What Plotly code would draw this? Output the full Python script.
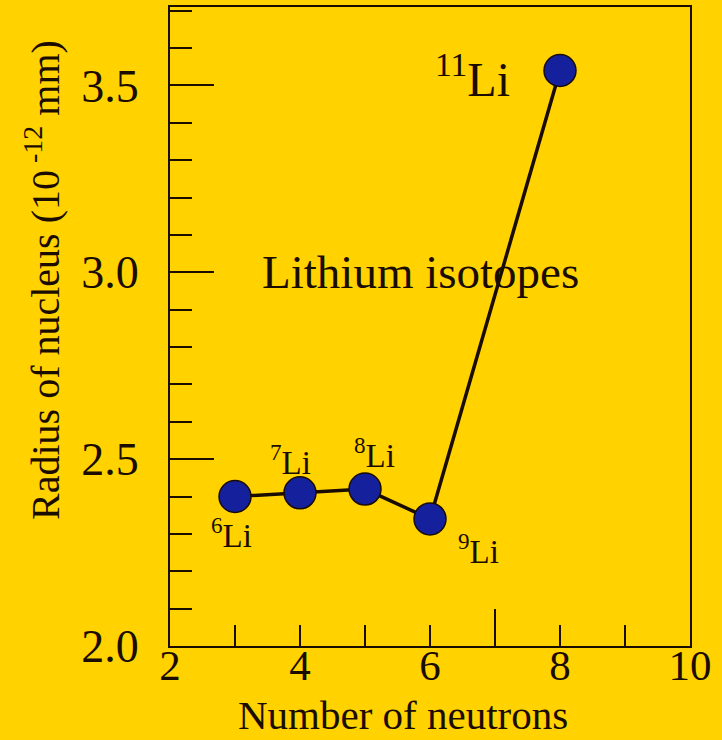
import plotly.graph_objects as go

# Lithium isotopes: neutron number vs nuclear radius
isotopes = ["6", "7", "8", "9", "11"]
neutrons = [3, 4, 5, 6, 8]
radius = [2.40, 2.41, 2.42, 2.34, 3.54]

# label offsets in pixels (x, y) relative to each point, and font sizes
label_shift = [(-4, -36), (-10, 33), (9, 36), (48, -30), (-88, -5)]
label_size = [33, 33, 33, 33, 48]

x_ticks = [2, 4, 6, 8, 10]
y_ticks = [2.0, 2.5, 3.0, 3.5]

BG = "#FFD200"
INK = "#1a0d00"
FONT = "Liberation Serif"

fig = go.Figure()

fig.add_trace(go.Scatter(
    x=neutrons,
    y=radius,
    mode="lines+markers",
    line=dict(color=INK, width=3.5),
    marker=dict(size=32, color="#14209C", line=dict(color=INK, width=1.5)),
    showlegend=False,
    hoverinfo="skip",
))

# invisible trace to carry the odd long tick at 7 on a twin axis
fig.add_trace(go.Scatter(x=[7], y=[2.0], xaxis="x2", mode="markers",
                         marker=dict(opacity=0), showlegend=False, hoverinfo="skip"))

for iso, n, r, (dx, dy), fs in zip(isotopes, neutrons, radius, label_shift, label_size):
    fig.add_annotation(
        x=n, y=r, xref="x", yref="y",
        text=f"<sup>{iso}</sup>Li",
        showarrow=False, xshift=dx, yshift=dy,
        font=dict(family=FONT, size=fs, color=INK),
    )

fig.add_annotation(
    x=5.86, y=3.0, xref="x", yref="y",
    text="Lithium isotopes", showarrow=False,
    font=dict(family=FONT, size=47, color=INK),
)

# axis titles as annotations (the originals sit off-centre)
fig.add_annotation(
    x=0.448, y=-0.146, xref="paper", yref="paper",
    text="Number of neutrons", showarrow=False,
    xanchor="center", yanchor="bottom", borderpad=0,
    font=dict(family=FONT, size=41, color=INK),
)
fig.add_annotation(
    x=-0.244, y=0.573, xref="paper", yref="paper",
    text="Radius of nucleus (10<sup> -12</sup> mm)", showarrow=False,
    textangle=-90, xanchor="center", yanchor="middle",
    font=dict(family=FONT, size=40, color=INK),
)

fig.update_layout(
    width=722, height=740,
    paper_bgcolor=BG, plot_bgcolor=BG,
    margin=dict(l=170, r=32, t=7, b=94),
    font=dict(family=FONT, color=INK),
    xaxis=dict(
        range=[2, 10], tickvals=x_ticks, ticktext=[str(v) for v in x_ticks],
        ticks="inside", ticklen=21, tickwidth=1.5, tickcolor=INK,
        minor=dict(dtick=1, ticks="inside", ticklen=21, tickwidth=1.5, tickcolor=INK),
        showline=True, linecolor=INK, linewidth=2, mirror=True,
        showgrid=False, zeroline=False,
        tickfont=dict(size=43, family=FONT, color=INK),
        ticklabelstandoff=-20,
        automargin=False,
    ),
    xaxis2=dict(
        range=[2, 10], overlaying="x", side="bottom", tickvals=[7],
        ticks="inside", ticklen=37, tickwidth=1.5, tickcolor=INK,
        showticklabels=False, showgrid=False, zeroline=False, showline=False,
    ),
    yaxis=dict(
        range=[2.0, 3.71], tickvals=y_ticks, ticktext=[f"{v:.1f}" for v in y_ticks],
        ticks="inside", ticklen=44, tickwidth=1.5, tickcolor=INK,
        minor=dict(dtick=0.1, ticks="inside", ticklen=22, tickwidth=1.5, tickcolor=INK),
        showline=True, linecolor=INK, linewidth=2, mirror=True,
        showgrid=False, zeroline=False,
        tickfont=dict(size=46, family=FONT, color=INK),
        ticklabelstandoff=20,
        automargin=False,
    ),
)

fig.write_html("out.html", config={"displayModeBar": False},
               post_script="document.body.style.margin='0';")
